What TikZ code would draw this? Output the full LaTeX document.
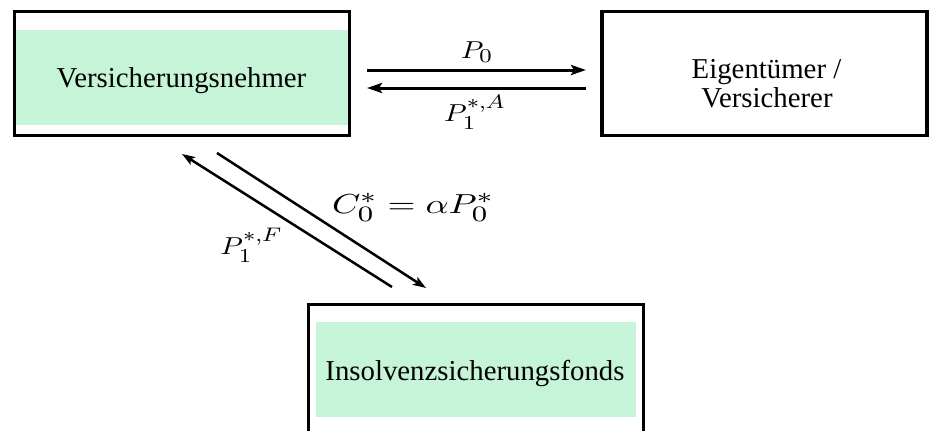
\documentclass[tikz,border=0pt]{standalone}
\usepackage{fontspec}
\setmainfont{Liberation Serif}
\usetikzlibrary{arrows.meta}
\definecolor{mint}{RGB}{198,244,216}
\DeclareMathSizes{10}{10}{8}{6}
\newcommand{\bigmath}[1]{\scalebox{2.9}[2.45]{\normalsize$#1$}}
\newcommand{\widemath}[1]{\scalebox{3.6}[2.75]{\normalsize$#1$}}
\tikzset{
  box/.style={draw=black, line width=3.5pt, rectangle, inner sep=0pt},
  fillbox/.style={fill=mint, draw=none, rectangle, inner sep=0pt},
  lbl/.style={font=\fontsize{28.8}{29}\selectfont, inner sep=0pt, anchor=base},
  mlbl/.style={inner sep=0pt, anchor=base},
  arr/.style={line width=3pt, -{Stealth[length=15pt,width=10pt,inset=3pt]}},
  darr/.style={line width=2.5pt, -{Stealth[length=13pt,width=9pt,inset=3pt]}}
}
\begin{document}
\begin{tikzpicture}[x=1pt,y=-1pt]
\useasboundingbox (0,0) rectangle (929,431);
% green fills
\node[fillbox, minimum width=332pt, minimum height=95pt] (Af) at (182,77.5) {};
\node[fillbox, minimum width=320pt, minimum height=95pt] (Cf) at (476,369.5) {};
% boxes
\node[box, minimum width=335pt, minimum height=124pt] (A) at (182,73.5) {};
\node[box, minimum width=325pt, minimum height=124pt] (B) at (764.5,73.5) {};
\node[box, minimum width=335pt, minimum height=140pt] (C) at (476,374.5) {};
% texts
\node[lbl] (At) at (181.5,87) {Versicherungsnehmer};
\node[lbl] (Bt1) at (766.5,78) {Eigentümer /};
\node[lbl] (Bt2) at (767,107) {Versicherer};
\node[lbl] (Ct) at (475,380) {Insolvenzsicherungsfonds};
% arrow endpoints
\coordinate (a1) at (367,70);
\coordinate (b1) at (586,70);
\coordinate (a2) at (367,88);
\coordinate (b2) at (586,88);
\coordinate (d1s) at (392,287);
\coordinate (d1e) at (182,154);
\coordinate (d2s) at (217,153);
\coordinate (d2e) at (426,288);
\draw[arr] (a1) -- (b1);
\draw[arr] (b2) -- (a2);
\draw[darr] (d1s) -- (d1e);
\draw[darr] (d2s) -- (d2e);
% labels
\node[mlbl] (l1) at (477,58) {\bigmath{P_0}};
\node[mlbl] (l2) at (475,121) {\bigmath{P_1^{*,A}}};
\node[mlbl] (l3) at (413,213) {\widemath{C_0^* = \alpha P_0^*}};
\node[mlbl] (l4) at (251.5,254) {\bigmath{P_1^{*,F}}};
\end{tikzpicture}
\end{document}
